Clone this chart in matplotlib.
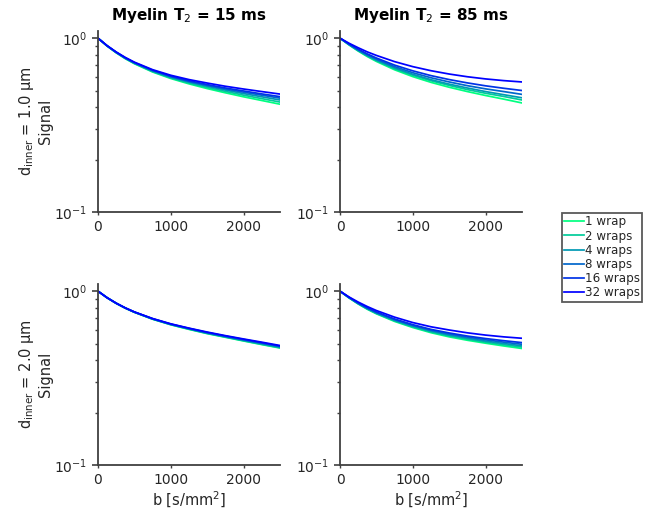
import numpy as np
import matplotlib
matplotlib.use("Agg")
import matplotlib.pyplot as plt
from matplotlib.ticker import LogLocator, NullFormatter, LogFormatterMathtext

b_values = [0, 125, 250, 375, 500, 750, 1000, 1250, 1500, 1750, 2000, 2250, 2500]
wrap_labels = ["1 wrap", "2 wraps", "4 wraps", "8 wraps", "16 wraps", "32 wraps"]
col_titles = ["Myelin T$_2$ = 15 ms", "Myelin T$_2$ = 85 ms"]
row_labels = ["d$_{\\mathrm{inner}}$ = 1.0 μm\nSignal", "d$_{\\mathrm{inner}}$ = 2.0 μm\nSignal"]

# top-left: d=1.0, T2=15
sig_d1_t15 = [
    [1, 0.901, 0.824, 0.762, 0.713, 0.639, 0.586, 0.546, 0.513, 0.485, 0.460, 0.438, 0.417],
    [1, 0.902, 0.826, 0.765, 0.716, 0.643, 0.591, 0.552, 0.521, 0.494, 0.470, 0.449, 0.429],
    [1, 0.903, 0.828, 0.767, 0.719, 0.647, 0.596, 0.559, 0.529, 0.503, 0.480, 0.460, 0.441],
    [1, 0.904, 0.829, 0.769, 0.722, 0.651, 0.601, 0.564, 0.535, 0.510, 0.489, 0.470, 0.452],
    [1, 0.905, 0.831, 0.771, 0.724, 0.654, 0.605, 0.569, 0.541, 0.517, 0.497, 0.478, 0.461],
    [1, 0.906, 0.833, 0.775, 0.728, 0.659, 0.612, 0.578, 0.552, 0.529, 0.510, 0.493, 0.477],
]
# top-right: d=1.0, T2=85
sig_d1_t85 = [
    [1, 0.914, 0.843, 0.784, 0.735, 0.658, 0.601, 0.557, 0.522, 0.493, 0.468, 0.446, 0.424],
    [1, 0.917, 0.848, 0.790, 0.743, 0.667, 0.612, 0.569, 0.535, 0.506, 0.482, 0.462, 0.441],
    [1, 0.919, 0.851, 0.795, 0.748, 0.675, 0.620, 0.577, 0.544, 0.517, 0.493, 0.473, 0.454],
    [1, 0.922, 0.857, 0.803, 0.758, 0.686, 0.633, 0.592, 0.560, 0.533, 0.511, 0.493, 0.475],
    [1, 0.926, 0.864, 0.812, 0.769, 0.700, 0.649, 0.609, 0.578, 0.553, 0.532, 0.515, 0.500],
    [1, 0.935, 0.881, 0.834, 0.796, 0.733, 0.686, 0.650, 0.622, 0.600, 0.583, 0.570, 0.560],
]
# bottom-left: d=2.0, T2=15
sig_d2_t15 = [
    [1, 0.9165, 0.851, 0.7985, 0.756, 0.690, 0.641, 0.603, 0.570, 0.543, 0.517, 0.493, 0.471],
    [1, 0.917, 0.851, 0.799, 0.757, 0.691, 0.642, 0.605, 0.572, 0.545, 0.519, 0.495, 0.473],
    [1, 0.917, 0.852, 0.800, 0.757, 0.692, 0.644, 0.607, 0.574, 0.547, 0.522, 0.499, 0.477],
    [1, 0.917, 0.852, 0.800, 0.758, 0.693, 0.645, 0.609, 0.577, 0.550, 0.525, 0.502, 0.480],
    [1, 0.917, 0.853, 0.801, 0.759, 0.695, 0.647, 0.611, 0.579, 0.552, 0.528, 0.505, 0.483],
    [1, 0.9175, 0.853, 0.8015, 0.760, 0.696, 0.649, 0.613, 0.582, 0.555, 0.531, 0.509, 0.487],
]
# bottom-right: d=2.0, T2=85
sig_d2_t85 = [
    [1, 0.914, 0.844, 0.787, 0.741, 0.670, 0.618, 0.577, 0.546, 0.522, 0.502, 0.484, 0.468],
    [1, 0.916, 0.847, 0.791, 0.745, 0.675, 0.623, 0.583, 0.553, 0.529, 0.509, 0.492, 0.477],
    [1, 0.917, 0.850, 0.794, 0.749, 0.680, 0.629, 0.589, 0.559, 0.536, 0.516, 0.500, 0.485],
    [1, 0.919, 0.853, 0.799, 0.754, 0.686, 0.635, 0.596, 0.567, 0.544, 0.525, 0.509, 0.495],
    [1, 0.921, 0.856, 0.803, 0.759, 0.692, 0.642, 0.603, 0.575, 0.552, 0.534, 0.519, 0.506],
    [1, 0.926, 0.866, 0.816, 0.774, 0.709, 0.660, 0.624, 0.598, 0.576, 0.559, 0.546, 0.536],
]

colors = ["#00ff80", "#00cc99", "#0099b3", "#0066cc", "#0033e6", "#0000ff"]

panels = [[sig_d1_t15, sig_d1_t85], [sig_d2_t15, sig_d2_t85]]

W, H = 662, 514
fig = plt.figure(figsize=(W / 100, H / 100), dpi=100)
plt.rcParams['font.family'] = ['DejaVu Sans']
txt = "#262626"
spine_c = "#404040"

lefts = [98, 340]
tops = [31, 284]
aw, ah = 182, 181

handles = []
for r in range(2):
    for c in range(2):
        ax = fig.add_axes([lefts[c] / W, 1 - (tops[r] + ah) / H, aw / W, ah / H])
        data = panels[r][c]
        for i, series in enumerate(data):
            ln, = ax.plot(b_values, series, color=colors[i], lw=1.25, label=wrap_labels[i])
            if r == 0 and c == 0:
                handles.append(ln)
        ax.set_yscale("log")
        ax.set_ylim(0.1, 1.1)
        ax.set_xlim(0, 2500)
        ax.set_xticks([0, 1000, 2000])
        ax.yaxis.set_major_locator(LogLocator(base=10, numticks=5))
        ax.yaxis.set_major_formatter(LogFormatterMathtext())
        ax.yaxis.set_minor_locator(LogLocator(base=10, subs=np.arange(2, 10), numticks=10))
        ax.yaxis.set_minor_formatter(NullFormatter())
        for s in ["top", "right"]:
            ax.spines[s].set_visible(False)
        for s in ["left", "bottom"]:
            ax.spines[s].set_color(spine_c)
            ax.spines[s].set_linewidth(1.3)
        ax.tick_params(axis="both", which="both", direction="out", colors=spine_c,
                       labelcolor=txt, labelsize=10)
        ax.tick_params(axis="y", which="major", length=4, width=1.2)
        ax.tick_params(axis="y", which="minor", length=2.5, width=1.0)
        ax.tick_params(axis="x", which="major", length=2, width=1.0)
        if r == 0:
            ax.set_title(col_titles[c], fontsize=11, fontweight="bold", color="black", pad=8)
        if c == 0:
            ax.set_ylabel(row_labels[r], fontsize=10.5, color=txt, labelpad=1)
        if r == 1:
            ax.set_xlabel("b [s/mm$^2$]", fontsize=10.5, color=txt, labelpad=2)

leg = fig.legend(handles=handles, labels=wrap_labels, loc="upper left",
                 bbox_to_anchor=(562 / W, 1 - 213 / H), fontsize=8.6, frameon=True,
                 fancybox=False, handlelength=1.6, handletextpad=0.1, labelspacing=0.1,
                 borderpad=0.2, borderaxespad=0)
leg.get_frame().set_edgecolor("#303030")
leg.get_frame().set_linewidth(1.3)
for t in leg.get_texts():
    t.set_color(txt)

fig.savefig("out.png", dpi=100)
